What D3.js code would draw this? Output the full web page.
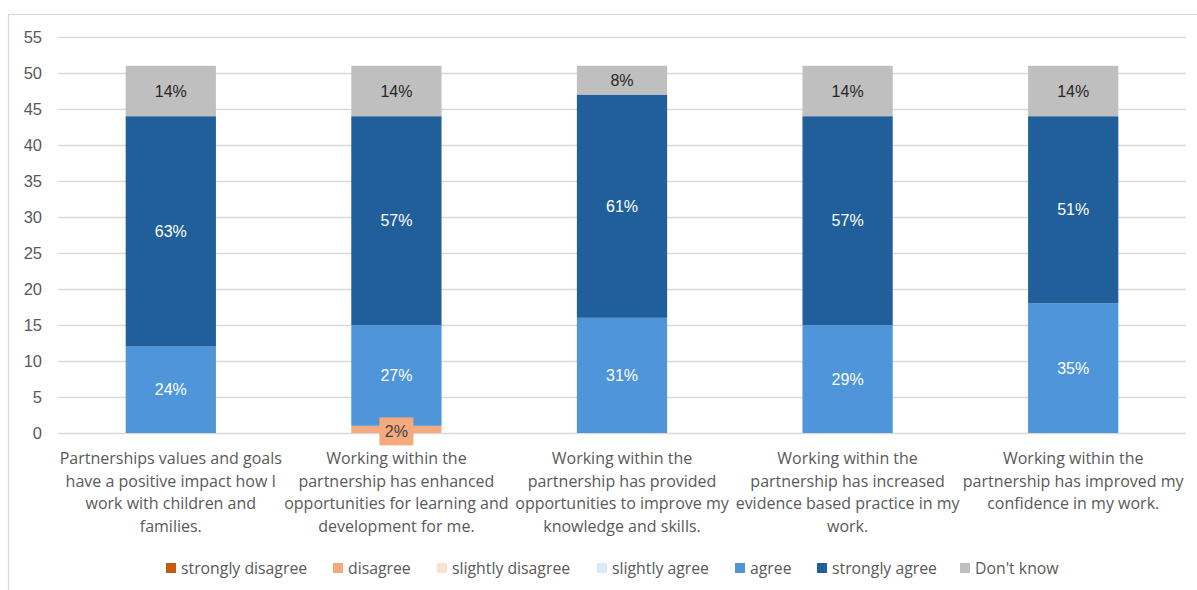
<!DOCTYPE html>
<html>
<head>
<meta charset="utf-8">
<script src="https://cdn.jsdelivr.net/npm/d3@7"></script>
<style>
  html, body { margin: 0; padding: 0; background: #fff; }
  svg { display: block; }
</style>
</head>
<body>
<svg id="chart" width="1197" height="590"></svg>
<script>
// Survey statements (x axis categories)
const categories = [
  "Partnerships values and goals have a positive impact how I work with children and families.",
  "Working within the partnership has enhanced opportunities for learning and development for me.",
  "Working within the partnership has provided opportunities to improve my knowledge and skills.",
  "Working within the partnership has increased evidence based practice in my work.",
  "Working within the partnership has improved my confidence in my work."
];
// Wrapped lines for each category label
const categoryLines = [
  ["Partnerships values and goals", "have a positive impact how I", "work with children and", "families."],
  ["Working within the", "partnership has enhanced", "opportunities for learning and", "development for me."],
  ["Working within the", "partnership has provided", "opportunities to improve my", "knowledge and skills."],
  ["Working within the", "partnership has increased", "evidence based practice in my", "work."],
  ["Working within the", "partnership has improved my", "confidence in my work."]
];
const seriesNames = ["strongly disagree", "disagree", "slightly disagree", "slightly agree", "agree", "strongly agree", "Don't know"];
const seriesColors = ["#C55A11", "#F4A97F", "#FBE0D2", "#DAE9F8", "#4E95D9", "#215F9A", "#BFBFBF"];

// Response counts per statement
const stronglyDisagree = [0, 0, 0, 0, 0];
const disagree         = [0, 1, 0, 0, 0];
const slightlyDisagree = [0, 0, 0, 0, 0];
const slightlyAgree    = [0, 0, 0, 0, 0];
const agree            = [12, 14, 16, 15, 18];
const stronglyAgree    = [32, 29, 31, 29, 26];
const dontKnow         = [7, 7, 4, 7, 7];

const yTicks = [0, 5, 10, 15, 20, 25, 30, 35, 40, 45, 50, 55];

const seriesValues = [stronglyDisagree, disagree, slightlyDisagree, slightlyAgree, agree, stronglyAgree, dontKnow];
const labelColors = ["#fff", "#404040", "#404040", "#404040", "#fff", "#fff", "#262626"];

const rows = categories.map((c, i) => {
  const r = { category: c };
  seriesNames.forEach((s, k) => { r[s] = seriesValues[k][i]; });
  return r;
});
const totals = categories.map((c, i) => seriesValues.reduce((a, s) => a + s[i], 0));

const svg = d3.select("#chart");
const W = 1197, H = 590;
const numFont = "'Liberation Sans', Arial, sans-serif";
const textFont = "'Open Sans', sans-serif";

// chart frame
svg.append("rect").attr("x", 8.5).attr("y", 14.5).attr("width", W + 10).attr("height", H + 10)
  .attr("fill", "#fff").attr("stroke", "#D9D9D9").attr("stroke-width", 1.3);

const margin = { left: 58, right: 11 };
const x = d3.scaleBand().domain(categories).range([margin.left, W - margin.right]).paddingInner(0.6).paddingOuter(0.3);
const y = d3.scaleLinear().domain([0, 55]).range([433, 37]);

// gridlines
svg.append("g").selectAll("line").data(yTicks).join("line")
  .attr("x1", margin.left).attr("x2", W - margin.right)
  .attr("y1", d => y(d) + 0.5).attr("y2", d => y(d) + 0.5)
  .attr("stroke", "#D9D9D9").attr("stroke-width", 1.3);

// y axis labels
const yAxis = d3.axisLeft(y).tickValues(yTicks).tickSize(0).tickPadding(0);
const yg = svg.append("g").attr("transform", `translate(42,0)`).call(yAxis);
yg.select(".domain").remove();
yg.selectAll("text").attr("font-family", numFont)
  .attr("font-size", 16.5).attr("fill", "#595959").attr("dy", "0.35em");

// stacked bars
const stack = d3.stack().keys(seriesNames);
const layers = stack(rows);

const barG = svg.append("g");
layers.forEach((layer, k) => {
  barG.append("g").attr("fill", seriesColors[k])
    .selectAll("rect").data(layer.filter(d => d[1] - d[0] > 0)).join("rect")
    .attr("x", d => x(d.data.category))
    .attr("width", x.bandwidth())
    .attr("y", d => y(d[1]))
    .attr("height", d => y(d[0]) - y(d[1]));
});

// value labels (share of respondents)
const labG = svg.append("g");
layers.forEach((layer, k) => {
  layer.forEach((d, i) => {
    const v = d[1] - d[0];
    if (v <= 0) return;
    const pct = Math.round(v / totals[i] * 100) + "%";
    const cx = x(d.data.category) + x.bandwidth() / 2;
    const cy = y((d[0] + d[1]) / 2);
    if (v < 2) {
      // small segment: label in a filled callout box
      const bw = 34, bh = 28;
      labG.append("rect").attr("x", cx - bw / 2).attr("y", cy - bh / 2 + 2)
        .attr("width", bw).attr("height", bh).attr("fill", seriesColors[k]);
      labG.append("text").attr("x", cx).attr("y", cy + 2).attr("dy", "0.35em")
        .attr("text-anchor", "middle").attr("font-family", numFont)
        .attr("font-size", 16).attr("fill", labelColors[k]).text(pct);
    } else {
      labG.append("text").attr("x", cx).attr("y", cy).attr("dy", "0.35em")
        .attr("text-anchor", "middle").attr("font-family", numFont)
        .attr("font-size", 16).attr("fill", labelColors[k]).text(pct);
    }
  });
});

// category labels
const catG = svg.append("g");
categories.forEach((c, i) => {
  const cx = x(c) + x.bandwidth() / 2;
  const t = catG.append("text").attr("text-anchor", "middle")
    .attr("font-family", textFont).attr("font-size", 16).attr("fill", "#595959");
  categoryLines[i].forEach((ln, j) => {
    t.append("tspan").attr("x", cx).attr("y", 464 + j * 22.6).text(ln);
  });
});

// legend
const legendX = [166, 333, 437, 597, 735, 817, 960];
const lg = svg.append("g");
seriesNames.forEach((s, k) => {
  lg.append("rect").attr("x", legendX[k]).attr("y", 563).attr("width", 10).attr("height", 10).attr("fill", seriesColors[k]);
  lg.append("text").attr("x", legendX[k] + 15).attr("y", 568).attr("dy", "0.35em")
    .attr("font-family", textFont).attr("font-size", 15.8).attr("fill", "#595959").text(s);
});
</script>
</body>
</html>
